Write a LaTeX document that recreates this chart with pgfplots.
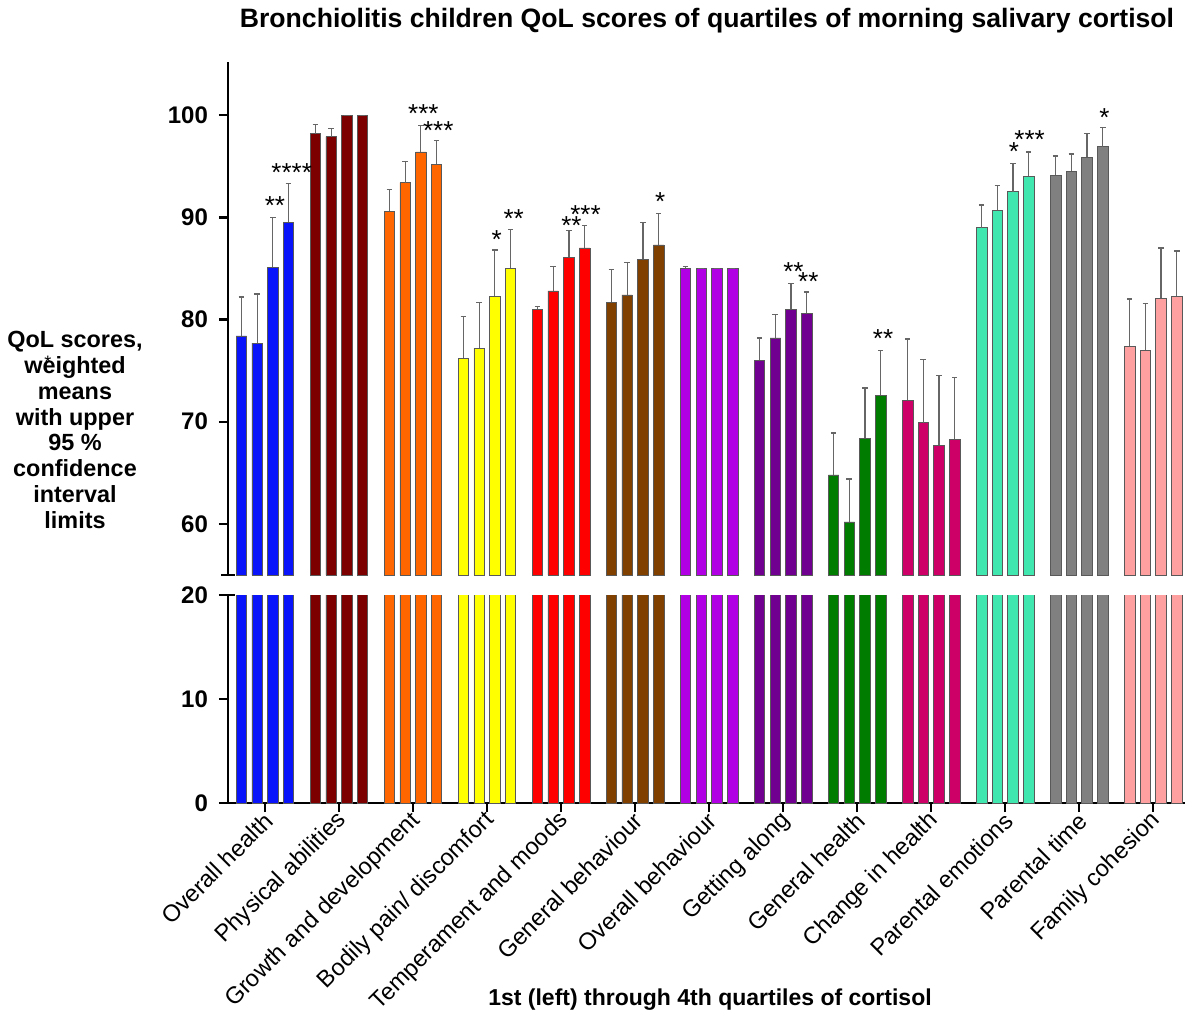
\documentclass[border=0pt]{standalone}
\usepackage{fontspec}
\setmainfont{Liberation Sans}
\usepackage{pgfplots}
\usepackage{pgfplotstable}
\pgfplotsset{compat=1.18}

\definecolor{c1}{RGB}{10,20,250}
\definecolor{c2}{RGB}{125,0,0}
\definecolor{c3}{RGB}{255,102,0}
\definecolor{c4}{RGB}{255,255,0}
\definecolor{c5}{RGB}{255,0,0}
\definecolor{c6}{RGB}{128,64,0}
\definecolor{c7}{RGB}{178,0,228}
\definecolor{c8}{RGB}{112,0,144}
\definecolor{c9}{RGB}{0,125,0}
\definecolor{c10}{RGB}{204,0,102}
\definecolor{c11}{RGB}{64,232,176}
\definecolor{c12}{RGB}{128,128,128}
\definecolor{c13}{RGB}{255,160,160}

% x = group + offset, y = weighted mean, e = upper CI - mean
\pgfplotstableread{
x y e
0.682 78.4 3.8
0.894 77.7 4.8
1.106 85.1 4.9
1.318 89.5 3.8
1.682 98.2 0.9
1.894 97.9 0.8
2.106 100.0 0
2.318 100.0 0
2.682 90.6 2.1
2.894 93.4 2.1
3.106 96.4 2.6
3.318 95.2 2.3
3.682 76.2 4.1
3.894 77.2 4.5
4.106 82.3 4.5
4.318 85.0 3.8
4.682 81.0 0.3
4.894 82.8 2.4
5.106 86.1 2.6
5.318 87.0 2.2
5.682 81.7 3.2
5.894 82.4 3.2
6.106 85.9 3.6
6.318 87.3 3.1
6.682 85.0 0.2
6.894 85.0 0
7.106 85.0 0
7.318 85.0 0
7.682 76.0 2.2
7.894 78.2 2.3
8.106 81.0 2.5
8.318 80.6 2.1
8.682 64.8 4.1
8.894 60.2 4.2
9.106 68.4 4.9
9.318 72.6 4.4
9.682 72.1 6.0
9.894 69.9 6.2
10.106 67.7 6.8
10.318 68.3 6.0
10.682 89.0 2.2
10.894 90.7 2.4
11.106 92.5 2.8
11.318 94.0 2.4
11.682 94.1 1.9
11.894 94.5 1.7
12.106 95.9 2.3
12.318 96.9 1.9
12.682 77.4 4.6
12.894 77.0 4.6
13.106 82.1 4.9
13.318 82.3 4.4
}\qoldata

\newcommand{\grp}[2]{\addplot[fill=c#1, restrict x to domain=#2]
  table[x=x, y=y, y error=e]{\qoldata};}
\newcommand{\allgroups}{%
  \grp{1}{0.6:1.4}\grp{2}{1.6:2.4}\grp{3}{2.6:3.4}\grp{4}{3.6:4.4}%
  \grp{5}{4.6:5.4}\grp{6}{5.6:6.4}\grp{7}{6.6:7.4}\grp{8}{7.6:8.4}%
  \grp{9}{8.6:9.4}\grp{10}{9.6:10.4}\grp{11}{10.6:11.4}\grp{12}{11.6:12.4}%
  \grp{13}{12.6:13.4}}

\pgfplotsset{
  common/.style={
    scale only axis, width=478.5pt,
    xmin=0.5, xmax=13.43,
    /pgf/number format/assume math mode=true,
    yticklabel style={font=\fontsize{12}{14}\selectfont\bfseries, xshift=-2pt},
    axis line style={line width=1.2pt, -},
    major tick style={line width=1.2pt, black},
    tick align=outside, major tick length=4.5pt,
    clip=true,
    every axis plot/.append style={ybar, bar shift=0pt, bar width=5.25pt,
      draw=black!65, line width=0.35pt},
  },
}
\tikzset{starlbl/.style={font=\fontsize{13}{13}\selectfont, anchor=base, yshift=-7.5pt, inner sep=0pt}}

\begin{document}
\begin{tikzpicture}
\useasboundingbox (-114pt,-110pt) rectangle (482pt,401.5pt);

% lower panel
\begin{axis}[common, name=lower, at={(0pt,0pt)}, anchor=south west,
  height=104pt, ymin=0, ymax=20, ytick={0,10,20},
  axis x line*=bottom, axis y line*=left,
  xtick={1,...,13},
  xticklabels={Overall health, Physical abilities, Growth and development,
    Bodily pain/ discomfort, Temperament and moods, General behaviour,
    Overall behaviour, Getting along, General health, Change in health,
    Parental emotions, Parental time, Family cohesion},
  xticklabel style={font=\fontsize{11.8}{14}\selectfont, rotate=45, anchor=east,
    yshift=-3pt, xshift=3pt},
]
\allgroups
\end{axis}

% upper panel
\begin{axis}[common, name=upper, at={(0pt,114pt)}, anchor=south west,
  height=256.5pt, ymin=55, ymax=105.2, ytick={60,70,80,90,100},
  axis x line=none, axis y line*=left, xtick=\empty,
  error bars/y dir=plus, error bars/y explicit,
  error bars/error bar style={black!60, line width=0.6pt},
  error bars/error mark options={rotate=90, mark size=1.4pt, black!60, line width=0.6pt},
]
\allgroups
\node[starlbl] at (axis cs:1.135,91.7) {**};
\node[starlbl] at (axis cs:1.36,94.95) {****};
\node[starlbl] at (axis cs:3.14,100.7) {***};
\node[starlbl] at (axis cs:3.34,99.1) {***};
\node[starlbl] at (axis cs:4.13,88.4) {*};
\node[starlbl] at (axis cs:4.36,90.5) {**};
\node[starlbl] at (axis cs:5.14,89.8) {**};
\node[starlbl] at (axis cs:5.33,90.9) {***};
\node[starlbl] at (axis cs:6.34,92.1) {*};
\node[starlbl] at (axis cs:8.14,85.3) {**};
\node[starlbl] at (axis cs:8.34,84.3) {**};
\node[starlbl] at (axis cs:9.35,78.7) {**};
\node[starlbl] at (axis cs:11.12,97.0) {*};
\node[starlbl] at (axis cs:11.33,98.2) {***};
\node[starlbl] at (axis cs:12.34,100.4) {*};
\end{axis}

% axis break caps and x-axis extension
\draw[line width=1.2pt] ([xshift=-3.5pt]lower.north west) -- ([xshift=3.5pt]lower.north west);
\draw[line width=1.2pt] ([xshift=-3.5pt]upper.south west) -- ([xshift=3.5pt]upper.south west);
\draw[line width=1.2pt] ([xshift=-3.5pt]lower.south west) -- (lower.south west);

% title and labels
\node[font=\fontsize{13.3}{16}\selectfont\bfseries] at (239.5pt,391pt) {Bronchiolitis children QoL scores of quartiles of morning salivary cortisol};
\node[font=\fontsize{11.7}{12.9}\selectfont\bfseries, align=center] at (-76.5pt,186.5pt)
  {QoL scores,\\ weighted\\ means\\ with upper\\ 95 \%\\ confidence\\ interval\\ limits};
\node[font=\fontsize{9}{9}\selectfont, inner sep=0pt] at (-90pt,220.5pt) {*};
\node[font=\fontsize{11.5}{14}\selectfont\bfseries] at (241pt,-98.5pt) {1st (left) through 4th quartiles of cortisol};
\end{tikzpicture}
\end{document}
